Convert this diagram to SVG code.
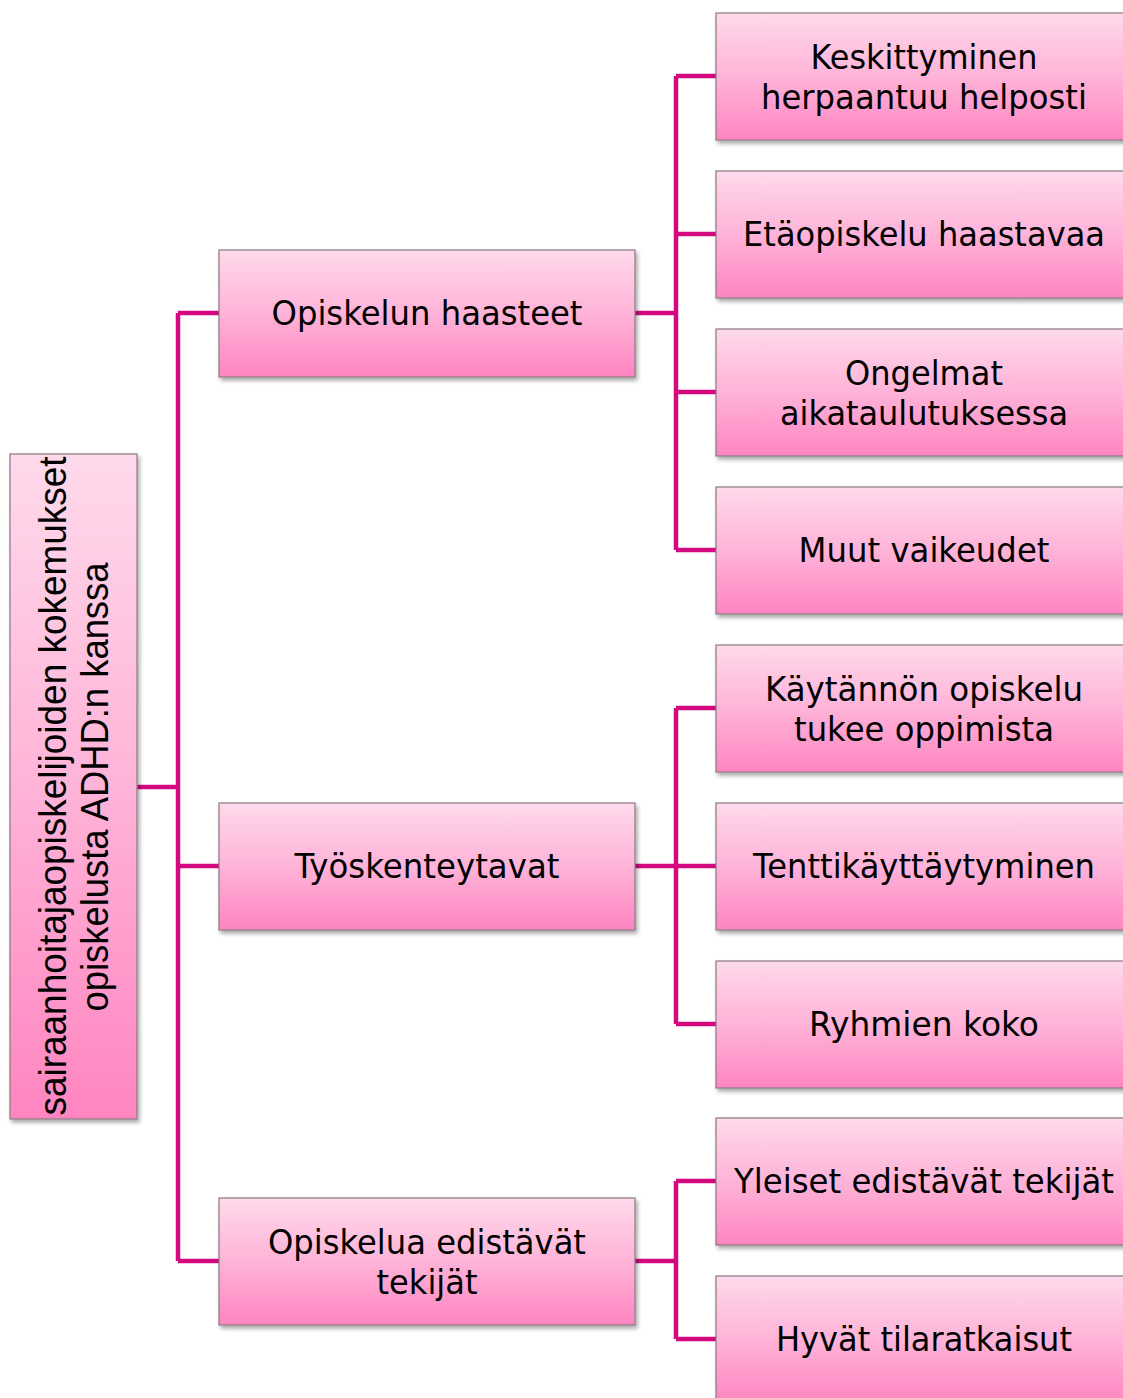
<svg xmlns="http://www.w3.org/2000/svg" width="1123" height="1398" viewBox="0 0 1123 1398">
<defs>
<linearGradient id="g" x1="0" y1="0" x2="0" y2="1">
<stop offset="0" stop-color="#FFD9EB"/>
<stop offset="0.5" stop-color="#FFB3D8"/>
<stop offset="1" stop-color="#FF85C0"/>
</linearGradient>
<filter id="sh" x="-5%" y="-5%" width="115%" height="120%">
<feGaussianBlur in="SourceAlpha" stdDeviation="2"/>
<feOffset dx="2" dy="3" result="b"/>
<feComponentTransfer><feFuncA type="linear" slope="0.35"/></feComponentTransfer>
<feMerge><feMergeNode/><feMergeNode in="SourceGraphic"/></feMerge>
</filter>
</defs>
<style>
.box{fill:url(#g);stroke:#8a7a80;stroke-width:1.2;filter:url(#sh)}
.t{font-family:"DejaVu Sans",Verdana,sans-serif;font-size:34px;fill:#000;text-anchor:middle}
.r{font-family:"Liberation Sans",Arial,sans-serif;font-size:38px;fill:#000;text-anchor:middle}
.c{stroke:#D4087F;stroke-width:4.5;fill:none}
</style>
<g id="connectors">
<path class="c" d="M137 787H178M178 313V1261M178 313H219M178 866H219M178 1261H219"/>
<path class="c" d="M635 313H676M676 76V550M676 76H716M676 234H716M676 392H716M676 550H716"/>
<path class="c" d="M635 866H676M676 708V1024M676 708H716M676 866H716M676 1024H716"/>
<path class="c" d="M635 1261H676M676 1181V1339M676 1181H716M676 1339H716"/>
</g>
<g id="root">
<rect class="box" x="10" y="454" width="127" height="665"/>
<text class="r" transform="translate(66,786) rotate(-90)" textLength="659" lengthAdjust="spacingAndGlyphs">sairaanhoitajaopiskelijoiden kokemukset</text>
<text class="r" transform="translate(108,787) rotate(-90)" textLength="449" lengthAdjust="spacingAndGlyphs">opiskelusta ADHD:n kanssa</text>
</g>
<g id="n-opiskelun-haasteet">
<rect class="box" x="219" y="250" width="416" height="127"/>
<text class="t" x="427" y="325" textLength="311" lengthAdjust="spacingAndGlyphs">Opiskelun haasteet</text>
</g>
<g id="n-tyoskenteytavat">
<rect class="box" x="219" y="803" width="416" height="127"/>
<text class="t" x="427" y="878" textLength="265" lengthAdjust="spacingAndGlyphs">Työskenteytavat</text>
</g>
<g id="n-edistavat">
<rect class="box" x="219" y="1198" width="416" height="127"/>
<text class="t" x="427" y="1254" textLength="318" lengthAdjust="spacingAndGlyphs">Opiskelua edistävät</text>
<text class="t" x="427" y="1294" textLength="101" lengthAdjust="spacingAndGlyphs">tekijät</text>
</g>
<g id="n-keskittyminen">
<rect class="box" x="716" y="13" width="416" height="127"/>
<text class="t" x="924" y="69" textLength="227" lengthAdjust="spacingAndGlyphs">Keskittyminen</text>
<text class="t" x="924" y="109" textLength="326" lengthAdjust="spacingAndGlyphs">herpaantuu helposti</text>
</g>
<g id="n-etaopiskelu">
<rect class="box" x="716" y="171" width="416" height="127"/>
<text class="t" x="924" y="246" textLength="362" lengthAdjust="spacingAndGlyphs">Etäopiskelu haastavaa</text>
</g>
<g id="n-ongelmat">
<rect class="box" x="716" y="329" width="416" height="127"/>
<text class="t" x="924" y="385" textLength="158" lengthAdjust="spacingAndGlyphs">Ongelmat</text>
<text class="t" x="924" y="425" textLength="288" lengthAdjust="spacingAndGlyphs">aikataulutuksessa</text>
</g>
<g id="n-muut">
<rect class="box" x="716" y="487" width="416" height="127"/>
<text class="t" x="924" y="562" textLength="251" lengthAdjust="spacingAndGlyphs">Muut vaikeudet</text>
</g>
<g id="n-kaytannon">
<rect class="box" x="716" y="645" width="416" height="127"/>
<text class="t" x="924" y="701" textLength="318" lengthAdjust="spacingAndGlyphs">Käytännön opiskelu</text>
<text class="t" x="924" y="741" textLength="260" lengthAdjust="spacingAndGlyphs">tukee oppimista</text>
</g>
<g id="n-tentti">
<rect class="box" x="716" y="803" width="416" height="127"/>
<text class="t" x="924" y="878" textLength="342" lengthAdjust="spacingAndGlyphs">Tenttikäyttäytyminen</text>
</g>
<g id="n-ryhmien">
<rect class="box" x="716" y="961" width="416" height="127"/>
<text class="t" x="924" y="1036" textLength="230" lengthAdjust="spacingAndGlyphs">Ryhmien koko</text>
</g>
<g id="n-yleiset">
<rect class="box" x="716" y="1118" width="416" height="127"/>
<text class="t" x="924" y="1193" textLength="380" lengthAdjust="spacingAndGlyphs">Yleiset edistävät tekijät</text>
</g>
<g id="n-hyvat">
<rect class="box" x="716" y="1276" width="416" height="127"/>
<text class="t" x="924" y="1351" textLength="296" lengthAdjust="spacingAndGlyphs">Hyvät tilaratkaisut</text>
</g>
</svg>
